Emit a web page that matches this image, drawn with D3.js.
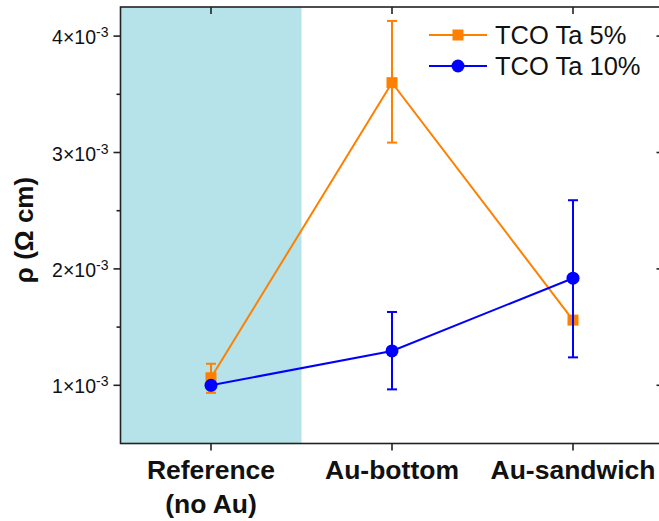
<!DOCTYPE html>
<html><head><meta charset="utf-8">
<script src="https://cdn.jsdelivr.net/npm/d3@7"></script>
<style>body{margin:0;background:#fff}svg{display:block}text{font-family:"Liberation Sans",Arial,sans-serif}</style>
</head><body><svg id="c" width="659" height="521"></svg>
<script>
const categories = ["Reference|(no Au)", "Au-bottom", "Au-sandwich"];
const seriesNames = ["TCO Ta 5%", "TCO Ta 10%"];
const ta5 = [1.065e-3, 3.60e-3, 1.56e-3];
const ta5Lo = [0.935e-3, 3.085e-3, 1.56e-3];
const ta5Hi = [1.185e-3, 4.13e-3, 1.56e-3];
const ta10 = [1.0e-3, 1.295e-3, 1.92e-3];
const ta10Lo = [1.0e-3, 0.965e-3, 1.24e-3];
const ta10Hi = [1.0e-3, 1.63e-3, 2.59e-3];
const yMajor = [1e-3, 2e-3, 3e-3, 4e-3];
const yMinor = [1.5e-3, 2.5e-3, 3.5e-3];
const yTickMant = ["1", "2", "3", "4"];
const shadeRange = [-0.5, 0.5];

const svg = d3.select("#c");
const L = 120.5, T = 7, B = 443.5, R = 663.5;
const x = d3.scaleLinear().domain([-0.5, 2.5]).range([L, R]);
const y = d3.scaleLinear().domain([0.5e-3, 4.25e-3]).range([B, T]);
const cOr = "#ff8000", cBl = "#0000ff";

svg.append("rect").attr("x", x(shadeRange[0])).attr("y", T)
  .attr("width", x(shadeRange[1]) - x(shadeRange[0])).attr("height", B - T).attr("fill", "#b5e3e9");

function series(vals, lo, hi, col, marker) {
  const g = svg.append("g");
  g.append("path").datum(vals).attr("fill", "none").attr("stroke", col).attr("stroke-width", 2)
    .attr("d", d3.line().x((d, i) => x(i)).y(d => y(d)));
  vals.forEach((v, i) => {
    if (hi[i] !== lo[i]) {
      g.append("line").attr("x1", x(i)).attr("x2", x(i)).attr("y1", y(lo[i])).attr("y2", y(hi[i]))
        .attr("stroke", col).attr("stroke-width", 2);
      [lo[i], hi[i]].forEach(e => g.append("line").attr("x1", x(i) - 5).attr("x2", x(i) + 5)
        .attr("y1", y(e)).attr("y2", y(e)).attr("stroke", col).attr("stroke-width", 2));
    }
  });
  vals.forEach((v, i) => drawMarker(g, x(i), y(v), col, marker));
}
function drawMarker(g, cx, cy, col, marker) {
  if (marker === "sq") g.append("rect").attr("x", cx - 5.5).attr("y", cy - 5.5).attr("width", 11).attr("height", 11).attr("fill", col);
  else g.append("circle").attr("cx", cx).attr("cy", cy).attr("r", 6.5).attr("fill", col);
}
series(ta5, ta5Lo, ta5Hi, cOr, "sq");
series(ta10, ta10Lo, ta10Hi, cBl, "ci");

// frame
const ax = svg.append("g").attr("stroke", "#222").attr("stroke-width", 1.6);
ax.append("rect").attr("x", L).attr("y", T).attr("width", R - L).attr("height", B - T).attr("fill", "none");
yMajor.forEach(v => {
  ax.append("line").attr("x1", L - 7).attr("x2", L).attr("y1", y(v)).attr("y2", y(v));
  ax.append("line").attr("x1", R - 7).attr("x2", R).attr("y1", y(v)).attr("y2", y(v));
});
yMinor.forEach(v => ax.append("line").attr("x1", L - 4).attr("x2", L).attr("y1", y(v)).attr("y2", y(v)));
categories.forEach((c, i) => {
  ax.append("line").attr("x1", x(i)).attr("x2", x(i)).attr("y1", B).attr("y2", B + 7);
  ax.append("line").attr("x1", x(i)).attr("x2", x(i)).attr("y1", T).attr("y2", T + 7);
});

// y tick labels
yMajor.forEach((v, i) => {
  const t = svg.append("text").attr("x", 108.5).attr("y", y(v) + 8).attr("text-anchor", "end")
    .attr("font-size", 19.5).attr("fill", "#111");
  t.append("tspan").text(yTickMant[i] + "×10");
  t.append("tspan").attr("font-size", 14).attr("dy", -7).text("-3");
});

// x labels
categories.forEach((c, i) => {
  c.split("|").forEach((ln, j) => svg.append("text").attr("x", x(i)).attr("y", 479 + j * 34)
    .attr("text-anchor", "middle").attr("font-size", 26.5).attr("font-weight", "bold").attr("fill", "#111").text(ln));
});

// y label
svg.append("text").attr("transform", "translate(33,230) rotate(-90)").attr("text-anchor", "middle")
  .attr("font-size", 26).attr("font-weight", "bold").attr("fill", "#111").text("ρ (Ω cm)");

// legend
const legCols = [cOr, cBl], legMk = ["sq", "ci"];
seriesNames.forEach((n, i) => {
  const ly = 35 + i * 31;
  svg.append("line").attr("x1", 429).attr("x2", 487).attr("y1", ly).attr("y2", ly).attr("stroke", legCols[i]).attr("stroke-width", 2);
  drawMarker(svg, 458, ly, legCols[i], legMk[i]);
  svg.append("text").attr("x", 495).attr("y", ly + 9).attr("font-size", 25.5).attr("fill", "#111").text(n);
});
</script></body></html>
